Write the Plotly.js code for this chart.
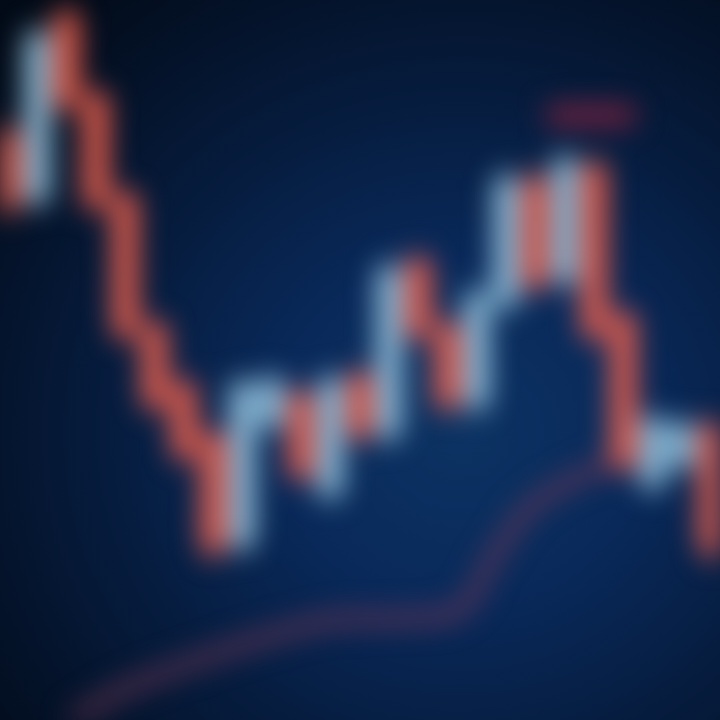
<!DOCTYPE html>
<html>
<head>
<meta charset="utf-8">
<script src="https://cdn.plot.ly/plotly-3.0.1.min.js"></script>
<style>
  html, body { margin: 0; padding: 0; width: 720px; height: 720px; overflow: hidden; }
  body {
    background: radial-gradient(ellipse 85% 80% at 64% 60%, #0c3363 0%, #09295a 30%, #061c3e 58%, #020a17 100%);
  }
  #chart { width: 720px; height: 720px; filter: blur(14px); }
</style>
</head>
<body>
<div id="chart"></div>
<script>
// Candle index (session number)
const sessions = [0,1,2,3,4,5,6,7,8,9,10,11,12,13,14,15,16,17,18,19,20,21,22,23,24];
const openVals  = [580,525,700,620,520,390,330,280,180,300,320,230,340,290,455,390,320,420,535,445,550,400,240,260,290];
const closeVals = [520,680,620,520,390,320,270,175,330,335,250,335,290,445,390,320,420,535,440,555,390,260,295,290,175];
const highVals  = [595,692,712,630,530,400,342,290,342,345,332,345,350,458,465,400,432,548,548,566,560,410,305,300,300];
const lowVals   = [505,512,608,508,380,308,258,162,168,290,238,220,278,278,380,308,308,410,428,432,378,248,228,250,160];

// Moving-average line
const maX = [1.8, 3.7, 6.5, 8.8, 11.1, 13.4, 15.4, 16.5, 17.7, 18.8, 20.0, 20.6];
const maY = [-10, 27, 60, 83, 100, 102, 110, 160, 210, 233, 250, 260];

// Resistance level marker
const levelX = [18.4, 21.4];
const levelY = [605, 605];

const traces = [
  {
    type: 'scatter', mode: 'lines', x: maX, y: maY,
    line: { color: 'rgba(120,58,86,0.75)', width: 14, shape: 'spline' },
    hoverinfo: 'skip', showlegend: false
  },
  {
    type: 'scatter', mode: 'lines', x: levelX, y: levelY,
    line: { color: 'rgba(150,36,62,0.8)', width: 20 },
    hoverinfo: 'skip', showlegend: false
  },
  {
    type: 'candlestick', x: sessions,
    open: openVals, high: highVals, low: lowVals, close: closeVals,
    increasing: { line: { color: '#92c2de', width: 10 }, fillcolor: '#a2cbe4' },
    decreasing: { line: { color: '#f0604c', width: 10 }, fillcolor: '#f26650' },
    whiskerwidth: 0.1,
    showlegend: false
  }
];

const layout = {
  width: 720, height: 720,
  margin: { l: 0, r: 0, t: 0, b: 0 },
  paper_bgcolor: 'rgba(0,0,0,0)',
  plot_bgcolor: 'rgba(0,0,0,0)',
  showlegend: false,
  xaxis: { range: [-0.27, 24.3], visible: false, rangeslider: { visible: false }, fixedrange: true },
  yaxis: { range: [0, 720], visible: false, fixedrange: true }
};

Plotly.newPlot('chart', traces, layout, { displayModeBar: false, staticPlot: true });
</script>
</body>
</html>
